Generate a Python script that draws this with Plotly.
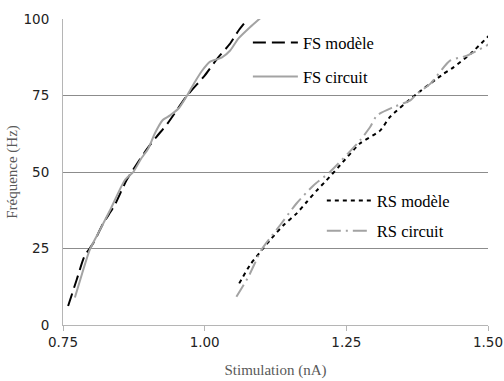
import plotly.graph_objects as go

# ---- data ----
fs_model_x = [0.759, 0.774, 0.788, 0.803, 0.821, 0.841, 0.862, 0.880, 0.900, 0.915, 0.935, 0.969, 1.000, 1.022, 1.045, 1.059, 1.076]
fs_model_y = [6.2, 14.7, 22.5, 26.6, 33.2, 39.1, 47.3, 52.5, 58.0, 61.5, 66.0, 75.0, 81.5, 87.0, 92.0, 96.0, 100.0]

fs_circ_x = [0.771, 0.784, 0.797, 0.815, 0.833, 0.859, 0.874, 0.888, 0.900, 0.912, 0.926, 0.939, 0.955, 0.969, 0.983, 0.995, 1.009, 1.030, 1.045, 1.059, 1.080, 1.107]
fs_circ_y = [9.0, 17.0, 24.5, 31.0, 37.5, 47.3, 50.0, 54.4, 57.5, 62.6, 67.0, 68.5, 71.0, 75.0, 79.5, 83.0, 86.0, 87.4, 89.7, 93.5, 97.3, 101.7]

rs_model_x = [1.061, 1.080, 1.103, 1.118, 1.139, 1.162, 1.180, 1.198, 1.215, 1.236, 1.274, 1.310, 1.327, 1.374, 1.421, 1.439, 1.469, 1.504]
rs_model_y = [13.6, 19.6, 25.0, 28.3, 32.6, 36.4, 40.2, 44.0, 47.3, 51.6, 59.3, 63.6, 68.0, 75.5, 82.0, 84.2, 88.6, 95.0]

rs_circ_x = [1.056, 1.077, 1.100, 1.115, 1.133, 1.162, 1.192, 1.221, 1.274, 1.292, 1.304, 1.333, 1.363, 1.374, 1.398, 1.433, 1.463, 1.504]
rs_circ_y = [9.2, 15.7, 24.5, 28.3, 32.6, 39.7, 45.6, 50.0, 60.3, 64.7, 68.5, 71.2, 73.4, 75.5, 78.8, 86.4, 88.0, 92.0]

x_ticks = [0.75, 1.00, 1.25, 1.50]
x_tick_labels = ["0.75", "1.00", "1.25", "1.50"]
y_ticks = [0, 25, 50, 75, 100]
y_tick_labels = ["0", "25", "50", "75", "100"]

names = ["FS modèle", "FS circuit", "RS modèle", "RS circuit"]

GRAY = "#a3a3a3"
SERIF = "Liberation Serif, Times New Roman, Times, serif"

fig = go.Figure()
fig.add_trace(go.Scatter(x=fs_model_x, y=fs_model_y, mode="lines", name=names[0],
                         line=dict(color="black", width=2, dash="13px,6px", shape="spline", smoothing=0.6),
                         legend="legend"))
fig.add_trace(go.Scatter(x=fs_circ_x, y=fs_circ_y, mode="lines", name=names[1],
                         line=dict(color=GRAY, width=2, shape="spline", smoothing=0.6),
                         legend="legend2"))
fig.add_trace(go.Scatter(x=rs_model_x, y=rs_model_y, mode="lines", name=names[2],
                         line=dict(color="black", width=2, dash="4px,4px", shape="spline", smoothing=0.6),
                         legend="legend3"))
fig.add_trace(go.Scatter(x=rs_circ_x, y=rs_circ_y, mode="lines", name=names[3],
                         line=dict(color=GRAY, width=2, dash="14px,5px,2px,5px", shape="spline", smoothing=0.6),
                         legend="legend4"))

leg_font = dict(family=SERIF, size=16.5, color="black")
def leg(x, y):
    return dict(x=x, y=y, xanchor="left", yanchor="middle", font=leg_font,
                bgcolor="rgba(0,0,0,0)", itemwidth=45, borderwidth=0)

fig.update_layout(
    width=504, height=381,
    margin=dict(l=63, r=16, t=19, b=56),
    paper_bgcolor="white", plot_bgcolor="white",
    showlegend=True,
    legend=leg(0.435, 0.922),
    legend2=leg(0.435, 0.811),
    legend3=leg(0.609, 0.406),
    legend4=leg(0.609, 0.307),
    xaxis=dict(range=[0.75, 1.50], tickvals=x_ticks, ticktext=x_tick_labels,
               showgrid=False, zeroline=False, showline=True, linecolor="#b5b5b5", linewidth=1,
               ticks="outside", ticklen=5, tickcolor="#b5b5b5", automargin=False,
               tickfont=dict(family="DejaVu Sans", size=13.5, color="#222"),
               title=dict(text="Stimulation (nA)", font=dict(family=SERIF, size=15, color="#595959"))),
    yaxis=dict(range=[0, 100], tickvals=y_ticks, ticktext=y_tick_labels,
               showgrid=True, gridcolor="#8c8c8c", gridwidth=1, zeroline=False,
               showline=True, linecolor="#b5b5b5", linewidth=1, ticks="",
               ticklabelstandoff=10, automargin=False,
               tickfont=dict(family="DejaVu Sans", size=13.5, color="#222"),
               title=dict(text="Fréquence (Hz)", standoff=2,
                          font=dict(family=SERIF, size=15, color="#595959"))),
)

# remove the browser's default 8px body margin so the figure fills the window exactly
fig.write_html("out.html", config={"displayModeBar": False},
               post_script="document.body.style.margin='0px';")
